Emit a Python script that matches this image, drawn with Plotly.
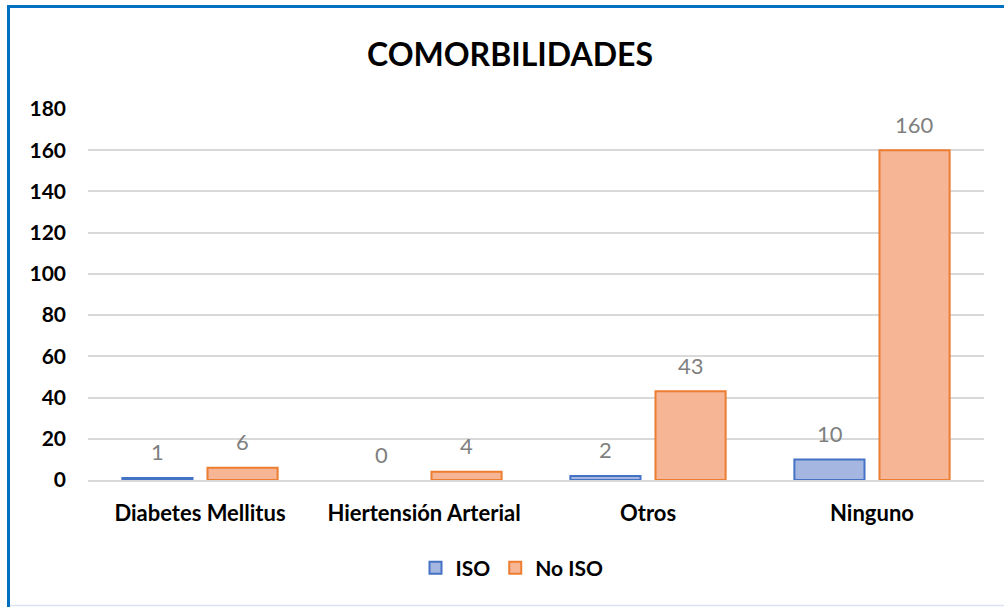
import plotly.graph_objects as go

categories = ["Diabetes Mellitus", "Hiertensión Arterial", "Otros", "Ninguno"]
iso_values = [1, 0, 2, 10]
no_iso_values = [6, 4, 43, 160]
series_names = ["ISO", "No ISO"]
y_ticks = [0, 20, 40, 60, 80, 100, 120, 140, 160, 180]
title_text = "COMORBILIDADES"

FONT = "Lato, Calibri, Carlito, sans-serif"
W, H = 1004, 607
ML, MT = 88, 109
PW, PH = 896, 371
MR = W - ML - PW
MB = H - MT - PH

def px_x(x):
    return (x - ML) / PW

def px_y(y):
    return (MT + PH - y) / PH

fig = go.Figure()
fig.add_trace(go.Bar(
    name=series_names[0], x=categories, y=iso_values,
    marker=dict(color="#a5b6e1",
                line=dict(color="#4472c4", width=[2 if v else 0 for v in iso_values])),
))
fig.add_trace(go.Bar(
    name=series_names[1], x=categories, y=no_iso_values,
    marker=dict(color="#f6b595",
                line=dict(color="#ed7d31", width=[2 if v else 0 for v in no_iso_values])),
))

# data labels
slot_half = 42.5
for vals, shift in ((iso_values, -slot_half), (no_iso_values, slot_half)):
    for c, v in zip(categories, vals):
        fig.add_annotation(x=c, y=v, xref="x", yref="y", text=str(v),
                           showarrow=False, xshift=shift, yshift=26,
                           yanchor="middle",
                           font=dict(family=FONT, size=22, color="#7f7f7f"))

# border lines (top/left blue, bottom light)
fig.add_shape(type="line", xref="paper", yref="paper",
              x0=px_x(8.5), x1=px_x(1010), y0=px_y(6.5), y1=px_y(6.5),
              line=dict(color="#0070c0", width=3))
fig.add_shape(type="line", xref="paper", yref="paper",
              x0=px_x(8.5), x1=px_x(8.5), y0=px_y(5), y1=px_y(610),
              line=dict(color="#0070c0", width=3))
fig.add_shape(type="line", xref="paper", yref="paper",
              x0=px_x(10), x1=px_x(1010), y0=px_y(605.5), y1=px_y(605.5),
              line=dict(color="#dae3f3", width=1.5))

fig.update_layout(
    width=W, height=H,
    margin=dict(l=ML, r=MR, t=MT, b=MB, pad=0),
    paper_bgcolor="white", plot_bgcolor="white",
    barmode="group", bargap=0.24, bargroupgap=0.176,
    title=dict(text="<b>" + title_text + "</b>", x=510 / W, xref="container",
               xanchor="center", y=1 - 55 / H, yref="container", yanchor="middle",
               font=dict(family=FONT, size=32, color="black")),
    font=dict(family=FONT, color="black"),
    xaxis=dict(showgrid=False, showline=True, linecolor="#d9d9d9", linewidth=2,
               tickfont=dict(family=FONT, size=22, color="black", weight="bold"),
               ticks="", ticklabelstandoff=13),
    yaxis=dict(range=[0, 180], tickvals=y_ticks, showgrid=True,
               gridcolor="#d9d9d9", gridwidth=2, zeroline=False, showline=False,
               tickfont=dict(family=FONT, size=21, color="black", weight="bold"),
               ticks="", ticklabelstandoff=21),
    legend=dict(orientation="h", x=512 / W, xref="container", xanchor="center",
                y=1 - 568 / H, yref="container", yanchor="middle",
                font=dict(family=FONT, size=21, color="black", weight="bold"),
                itemwidth=30, traceorder="normal"),
    showlegend=True,
)

fig.write_html("out.html", config={"displayModeBar": False},
               post_script="document.body.style.margin='0px';")
